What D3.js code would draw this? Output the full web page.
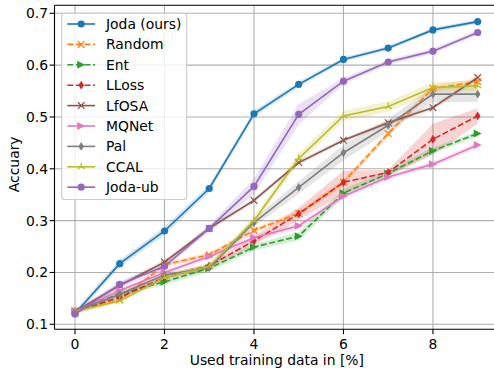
<!DOCTYPE html>
<html>
<head>
<meta charset="utf-8">
<script src="https://cdn.jsdelivr.net/npm/d3@7"></script>
<style>
  html, body { margin: 0; padding: 0; background: #fff; }
  svg { display: block; font-family: "DejaVu Sans", sans-serif; }
</style>
</head>
<body>
<svg id="chart" width="494" height="368"></svg>
<script>
// ---- data ----
const xs = [0, 1, 2, 3, 4, 5, 6, 7, 8, 9];
const seriesNames = ["Joda (ours)", "Random", "Ent", "LLoss", "LfOSA", "MQNet", "Pal", "CCAL", "Joda-ub"];
const joda    = [0.121, 0.217, 0.280, 0.362, 0.506, 0.563, 0.611, 0.633, 0.668, 0.684];
const random  = [0.125, 0.147, 0.215, 0.234, 0.281, 0.314, 0.374, 0.468, 0.555, 0.568];
const ent     = [0.125, 0.159, 0.182, 0.208, 0.249, 0.270, 0.353, 0.391, 0.435, 0.468];
const lloss   = [0.125, 0.152, 0.190, 0.213, 0.261, 0.313, 0.374, 0.393, 0.457, 0.502];
const lfosa   = [0.125, 0.175, 0.220, 0.285, 0.339, 0.412, 0.455, 0.489, 0.518, 0.576];
const mqnet   = [0.125, 0.165, 0.200, 0.231, 0.267, 0.290, 0.347, 0.384, 0.409, 0.446];
const pal     = [0.125, 0.158, 0.195, 0.209, 0.296, 0.364, 0.431, 0.484, 0.544, 0.544];
const ccal    = [0.125, 0.145, 0.190, 0.212, 0.300, 0.420, 0.502, 0.520, 0.557, 0.560];
const jodaUb  = [0.120, 0.177, 0.212, 0.285, 0.366, 0.505, 0.569, 0.606, 0.627, 0.663];

const jodaStd   = [0.006, 0.007, 0.007, 0.007, 0.006, 0.005, 0.004, 0.004, 0.004, 0.004];
const randomStd = [0.004, 0.004, 0.004, 0.005, 0.005, 0.006, 0.006, 0.006, 0.006, 0.006];
const entStd    = [0.004, 0.005, 0.006, 0.006, 0.006, 0.008, 0.008, 0.006, 0.006, 0.005];
const llossStd  = [0.004, 0.005, 0.005, 0.005, 0.008, 0.012, 0.022, 0.005, 0.030, 0.015];
const lfosaStd  = [0.004, 0.004, 0.004, 0.004, 0.004, 0.004, 0.004, 0.004, 0.004, 0.005];
const mqnetStd  = [0.004, 0.005, 0.005, 0.005, 0.006, 0.006, 0.005, 0.005, 0.005, 0.005];
const palStd    = [0.004, 0.005, 0.005, 0.005, 0.008, 0.012, 0.015, 0.012, 0.015, 0.015];
const ccalStd   = [0.004, 0.004, 0.004, 0.005, 0.008, 0.010, 0.010, 0.010, 0.010, 0.010];
const jodaUbStd = [0.004, 0.006, 0.006, 0.006, 0.015, 0.020, 0.006, 0.005, 0.005, 0.005];

const xTicks = [0, 2, 4, 6, 8];
const yTicks = [0.1, 0.2, 0.3, 0.4, 0.5, 0.6, 0.7];
const xLabel = "Used training data in [%]";
const yLabel = "Accuary";

// ---- styles ----
const styles = [
  {color: "#1f77b4", dash: null, marker: "o"},
  {color: "#ff7f0e", dash: "6,2.6", marker: "x"},
  {color: "#2ca02c", dash: "6,2.6", marker: ">"},
  {color: "#d62728", dash: "6,2.6", marker: "d"},
  {color: "#8c564b", dash: null, marker: "x"},
  {color: "#e377c2", dash: null, marker: ">"},
  {color: "#7f7f7f", dash: null, marker: "d"},
  {color: "#bcbd22", dash: null, marker: "tri"},
  {color: "#9467bd", dash: null, marker: "o"}
];
const values = [joda, random, ent, lloss, lfosa, mqnet, pal, ccal, jodaUb];
const stds = [jodaStd, randomStd, entStd, llossStd, lfosaStd, mqnetStd, palStd, ccalStd, jodaUbStd];

// ---- layout ----
const svg = d3.select("#chart");
const pLeft = 54.5, pTop = 5.3, pBottom = 329.3;
const x = d3.scaleLinear().domain([0, 9]).range([75, 477.7]);
const y = d3.scaleLinear().domain([0.1, 0.7]).range([324.3, 13.3]);
const pRight = x(9.45);

// grid
const g = svg.append("g");
g.selectAll("line.gx").data(xTicks).enter().append("line")
  .attr("x1", d => x(d)).attr("x2", d => x(d)).attr("y1", pTop).attr("y2", pBottom)
  .attr("stroke", "#b0b0b0").attr("stroke-width", 1.1);
g.selectAll("line.gy").data(yTicks).enter().append("line")
  .attr("x1", pLeft).attr("x2", pRight).attr("y1", d => y(d)).attr("y2", d => y(d))
  .attr("stroke", "#b0b0b0").attr("stroke-width", 1.1);

// bands
const area = (vals, sd) => d3.area()
  .x((d, i) => x(xs[i]))
  .y0((d, i) => y(vals[i] - sd[i]))
  .y1((d, i) => y(vals[i] + sd[i]))(vals);

const plot = svg.append("g");
values.forEach((vals, k) => {
  plot.append("path").attr("d", area(vals, stds[k]))
    .attr("fill", styles[k].color).attr("fill-opacity", 0.2).attr("stroke", "none");
});

// marker drawer
function drawMarker(sel, type, color, cx, cy) {
  const r = 3.6;
  if (type === "o") {
    sel.append("circle").attr("cx", cx).attr("cy", cy).attr("r", r).attr("fill", color);
  } else if (type === "x") {
    const s = 3.3;
    sel.append("path").attr("d", `M${cx - s},${cy - s}L${cx + s},${cy + s}M${cx - s},${cy + s}L${cx + s},${cy - s}`)
      .attr("stroke", color).attr("stroke-width", 1.3).attr("fill", "none");
  } else if (type === ">") {
    const s = 4;
    sel.append("path").attr("d", `M${cx + s},${cy}L${cx - s},${cy - s}L${cx - s},${cy + s}Z`).attr("fill", color);
  } else if (type === "d") {
    const w = 2.8, h = 4.4;
    sel.append("path").attr("d", `M${cx},${cy - h}L${cx + w},${cy}L${cx},${cy + h}L${cx - w},${cy}Z`).attr("fill", color);
  } else if (type === "tri") {
    const s = 4;
    const a1 = -Math.PI / 2, a2 = a1 + 2 * Math.PI / 3, a3 = a1 + 4 * Math.PI / 3;
    sel.append("path").attr("d",
      `M${cx},${cy}L${cx + s * Math.cos(a1)},${cy + s * Math.sin(a1)}` +
      `M${cx},${cy}L${cx + s * Math.cos(a2)},${cy + s * Math.sin(a2)}` +
      `M${cx},${cy}L${cx + s * Math.cos(a3)},${cy + s * Math.sin(a3)}`)
      .attr("stroke", color).attr("stroke-width", 1.3).attr("fill", "none");
  }
}

// lines + markers
const line = d3.line().x((d, i) => x(xs[i])).y(d => y(d));
values.forEach((vals, k) => {
  const st = styles[k];
  const gg = plot.append("g");
  gg.append("path").attr("d", line(vals)).attr("fill", "none")
    .attr("stroke", st.color).attr("stroke-width", 1.6)
    .attr("stroke-dasharray", st.dash);
  vals.forEach((v, i) => drawMarker(gg, st.marker, st.color, x(xs[i]), y(v)));
});

// spines
svg.append("line").attr("x1", pLeft).attr("x2", pLeft).attr("y1", pTop).attr("y2", pBottom)
  .attr("stroke", "#000").attr("stroke-width", 1.1);
svg.append("line").attr("x1", pLeft).attr("x2", pRight).attr("y1", pBottom).attr("y2", pBottom)
  .attr("stroke", "#000").attr("stroke-width", 1.1);
svg.append("line").attr("x1", pLeft).attr("x2", pRight).attr("y1", pTop).attr("y2", pTop)
  .attr("stroke", "#000").attr("stroke-width", 1.1);

// ticks
const fs = 13.9;
xTicks.forEach(t => {
  svg.append("line").attr("x1", x(t)).attr("x2", x(t)).attr("y1", pBottom).attr("y2", pBottom + 4.9)
    .attr("stroke", "#000").attr("stroke-width", 1.1);
  svg.append("text").attr("x", x(t)).attr("y", pBottom + 19.5).attr("text-anchor", "middle")
    .attr("font-size", fs).attr("fill", "#000").text(d3.format("d")(t));
});
yTicks.forEach(t => {
  svg.append("line").attr("x1", pLeft - 4.9).attr("x2", pLeft).attr("y1", y(t)).attr("y2", y(t))
    .attr("stroke", "#000").attr("stroke-width", 1.1);
  svg.append("text").attr("x", pLeft - 6.5).attr("y", y(t)).attr("dy", "0.36em").attr("text-anchor", "end")
    .attr("font-size", fs).attr("fill", "#000").text(d3.format(".1f")(t));
});

// axis labels
svg.append("text").attr("x", (75 + 477.7) / 2 + 0.5).attr("y", 364.5).attr("text-anchor", "middle")
  .attr("font-size", fs).attr("fill", "#000").text(xLabel);
svg.append("text").attr("transform", `translate(19,${(pTop + pBottom) / 2 - 3}) rotate(-90)`)
  .attr("text-anchor", "middle").attr("font-size", fs).attr("fill", "#000").text(yLabel);

// legend
const lg = svg.append("g");
lg.append("rect").attr("x", 61.7).attr("y", 13.3).attr("width", 125).attr("height", 186.2)
  .attr("rx", 3).attr("fill", "#fff").attr("fill-opacity", 0.8)
  .attr("stroke", "#cccccc").attr("stroke-width", 1.1);
seriesNames.forEach((name, k) => {
  const st = styles[k];
  const cy = 24 + k * 20.4;
  const x0 = 67.3, x1 = 95.1;
  lg.append("line").attr("x1", x0).attr("x2", x1).attr("y1", cy).attr("y2", cy)
    .attr("stroke", st.color).attr("stroke-width", 1.6).attr("stroke-dasharray", st.dash);
  drawMarker(lg, st.marker, st.color, (x0 + x1) / 2, cy);
  lg.append("text").attr("x", 106).attr("y", cy).attr("dy", "0.36em")
    .attr("font-size", fs).attr("fill", "#000").text(name);
});
</script>
</body>
</html>
